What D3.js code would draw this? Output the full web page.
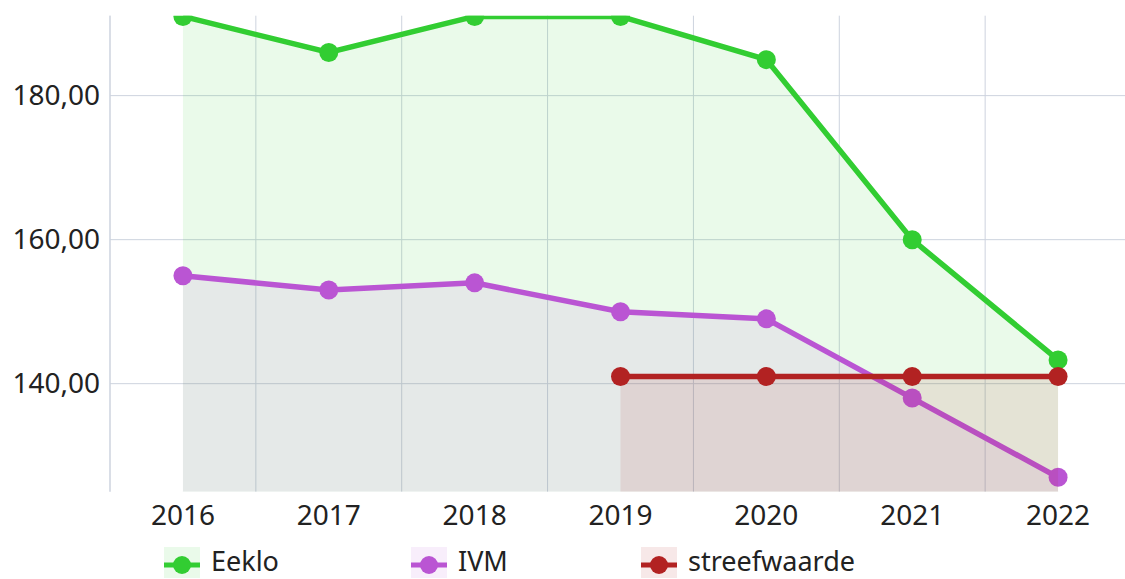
<!DOCTYPE html>
<head>
<meta charset="utf-8">
<script src="https://d3js.org/d3.v7.min.js"></script>
</head>
<style>
body { margin: 0; background: #fff; }
text { font-family: "Noto Sans", sans-serif; fill: #222; }
.grid line { stroke: #cdd3de; stroke-width: 1px; }
</style>
<body>
<script>
var years = ["2016", "2017", "2018", "2019", "2020", "2021", "2022"];
var eeklo = [191, 186, 191, 191, 185, 160, 143.3];
var ivm = [155, 153, 154, 150, 149, 138, 127];
var streefYears = ["2019", "2020", "2021", "2022"];
var streef = [141, 141, 141, 141];
var yTicks = [140, 160, 180];
var seriesNames = ["Eeklo", "IVM", "streefwaarde"];
var colors = ["#32cd32", "#ba55d3", "#b22222"];

var width = 1125, height = 579;
var plot = {left: 110, top: 15.7, bottom: 491.7, right: 1131};

var svg = d3.select("body").append("svg")
    .attr("width", width)
    .attr("height", height);

var x = d3.scaleBand().domain(years).range([plot.left, plot.right]);
var y = d3.scaleLinear().domain([125, 191.1]).range([plot.bottom, plot.top]);
var cx = function(d) { return x(d) + x.bandwidth() / 2; };

var nl = d3.formatLocale({decimal: ",", thousands: ".", grouping: [3], currency: ["€", ""]});
var fmt = nl.format(".2f");

svg.append("defs").append("clipPath").attr("id", "clip")
  .append("rect")
    .attr("x", plot.left).attr("y", plot.top)
    .attr("width", plot.right - plot.left).attr("height", plot.bottom - plot.top);

// grid
var grid = svg.append("g").attr("class", "grid");
grid.selectAll(".h").data(yTicks).enter().append("line")
    .attr("x1", plot.left).attr("x2", width)
    .attr("y1", function(d) { return y(d); }).attr("y2", function(d) { return y(d); });
grid.selectAll(".v").data(years).enter().append("line")
    .attr("x1", function(d) { return x(d); }).attr("x2", function(d) { return x(d); })
    .attr("y1", plot.top).attr("y2", plot.bottom);

// y labels
svg.selectAll(".ylab").data(yTicks).enter().append("text")
    .attr("x", 100).attr("y", function(d) { return y(d); })
    .attr("dy", "0.35em").attr("text-anchor", "end")
    .style("font-size", "28px")
    .text(function(d) { return fmt(d); });

// x labels
svg.selectAll(".xlab").data(years).enter().append("text")
    .attr("x", cx).attr("y", 525)
    .attr("text-anchor", "middle")
    .style("font-size", "28px")
    .text(function(d) { return d; });

var series = [
  {name: seriesNames[0], cats: years, vals: eeklo, color: colors[0]},
  {name: seriesNames[1], cats: years, vals: ivm, color: colors[1]},
  {name: seriesNames[2], cats: streefYears, vals: streef, color: colors[2]}
];

var g = svg.append("g").attr("clip-path", "url(#clip)");
series.forEach(function(s) {
  var pts = s.cats.map(function(c, i) { return [c, s.vals[i]]; });
  var area = d3.area()
      .x(function(d) { return cx(d[0]); })
      .y0(plot.bottom)
      .y1(function(d) { return y(d[1]); });
  var line = d3.line()
      .x(function(d) { return cx(d[0]); })
      .y(function(d) { return y(d[1]); });
  g.append("path").datum(pts).attr("d", area)
      .attr("fill", s.color).attr("fill-opacity", 0.1);
  g.append("path").datum(pts).attr("d", line)
      .attr("fill", "none").attr("stroke", s.color).attr("stroke-width", 5.5);
  g.selectAll(null).data(pts).enter().append("circle")
      .attr("cx", function(d) { return cx(d[0]); })
      .attr("cy", function(d) { return y(d[1]); })
      .attr("r", 9.5).attr("fill", s.color);
});

// left axis line
svg.append("line")
    .attr("x1", plot.left).attr("x2", plot.left)
    .attr("y1", plot.top).attr("y2", plot.bottom)
    .attr("stroke", "#cdd3de");

// legend
var legX = [164, 411, 641];
var leg = svg.selectAll(".leg").data(series).enter().append("g")
    .attr("transform", function(d, i) { return "translate(" + legX[i] + ",547)"; });
leg.append("rect").attr("width", 36).attr("height", 31)
    .attr("fill", function(d) { return d.color; }).attr("fill-opacity", 0.1);
leg.append("line").attr("x1", 0).attr("x2", 36).attr("y1", 18).attr("y2", 18)
    .attr("stroke", function(d) { return d.color; }).attr("stroke-width", 5);
leg.append("circle").attr("cx", 18).attr("cy", 18).attr("r", 9)
    .attr("fill", function(d) { return d.color; });
leg.append("text").attr("x", 47).attr("y", 24)
    .style("font-size", "27px")
    .text(function(d) { return d.name; });
</script>
</body>
